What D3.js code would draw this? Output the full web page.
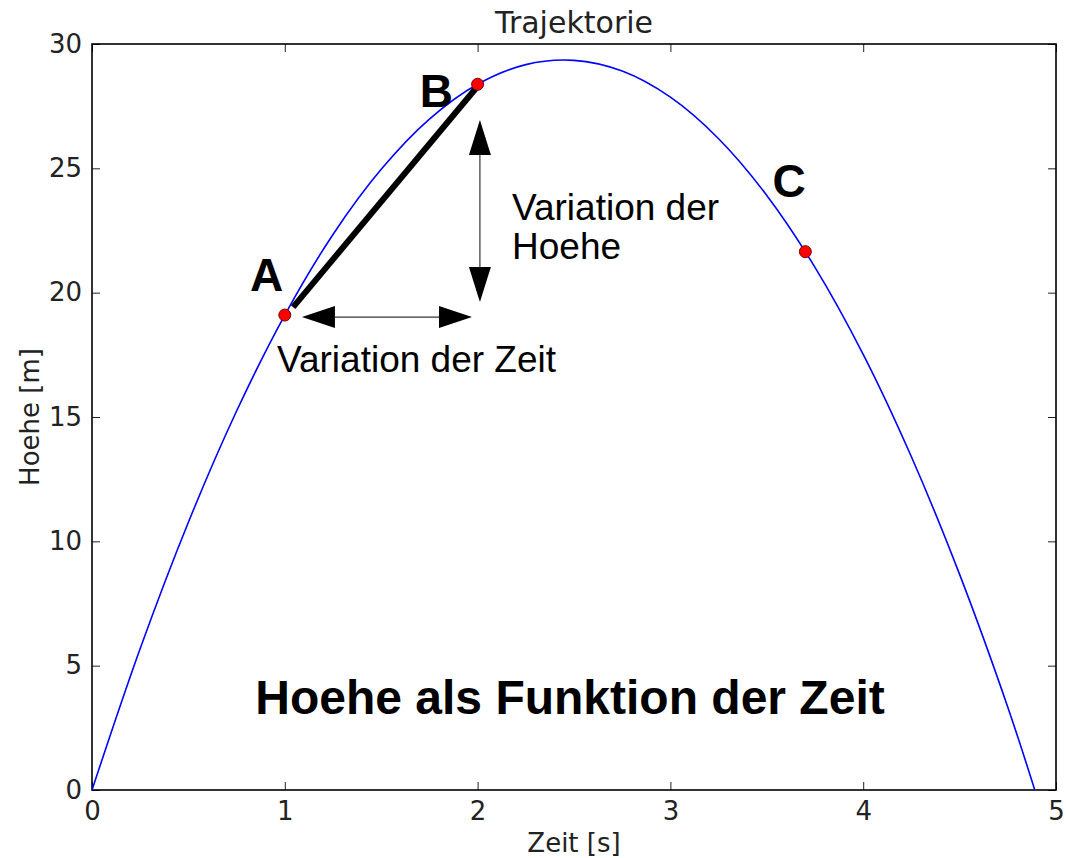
<!DOCTYPE html>
<html>
<head>
<meta charset="utf-8">
<script src="https://cdn.jsdelivr.net/npm/d3@7"></script>
<style>
	body { margin: 0; background: #fff; }
	.axis text { font-family: "DejaVu Sans", sans-serif; font-size: 26px; fill: #222; }
	.axis path { display: none; }
	.axis line { stroke: #222; stroke-width: 1; }
	.anno { font-family: "Liberation Sans", Arial, sans-serif; fill: #000; }
</style>
</head>
<body>
<div id="chart"></div>
<script>
// curve: time [s] and height [m]
var zeit = [0, 0.25, 0.5, 0.75, 1.0, 1.25, 1.5, 1.75, 2.0, 2.25, 2.5, 2.75,
	3.0, 3.25, 3.5, 3.75, 4.0, 4.25, 4.5, 4.75, 4.89];
var hoehe = [0, 5.69, 10.77, 15.24, 19.10, 22.34, 24.96, 26.98, 28.38, 29.17, 29.34, 28.91,
	27.86, 26.19, 23.91, 21.02, 17.52, 13.40, 8.67, 3.33, 0];

// marked points
var pointNames = ["A", "B", "C"];
var pointZeit = [1.0, 2.0, 3.7];
var pointHoehe = [19.1, 28.38, 21.65];

var xTicks = [0, 1, 2, 3, 4, 5];
var yTicks = [0, 5, 10, 15, 20, 25, 30];

var W = 1066, H = 858,
	pLeft = 92, pTop = 44, pRight = 1056, pBottom = 790;

var svg = d3.select("#chart").append("svg")
	.attr("width", W)
	.attr("height", H);

var x = d3.scaleLinear().domain([0, 5]).range([pLeft, pRight]);
var y = d3.scaleLinear().domain([0, 30]).range([pBottom, pTop]);

// axes, ticks pointing inwards like matplotlib
svg.append("g").attr("class", "axis")
	.attr("transform", "translate(0," + pBottom + ")")
	.call(d3.axisBottom(x).tickValues(xTicks).tickSize(-8).tickPadding(12).tickFormat(d3.format("d")));
svg.append("g").attr("class", "axis")
	.attr("transform", "translate(" + pLeft + ",0)")
	.call(d3.axisLeft(y).tickValues(yTicks).tickSize(-8).tickPadding(10).tickFormat(d3.format("d")));
svg.append("g").attr("class", "axis")
	.attr("transform", "translate(0," + pTop + ")")
	.call(d3.axisTop(x).tickValues(xTicks).tickSize(-8).tickFormat(""));
svg.append("g").attr("class", "axis")
	.attr("transform", "translate(" + pRight + ",0)")
	.call(d3.axisRight(y).tickValues(yTicks).tickSize(-8).tickFormat(""));

svg.append("rect")
	.attr("x", pLeft).attr("y", pTop)
	.attr("width", pRight - pLeft).attr("height", pBottom - pTop)
	.style("fill", "none").style("stroke", "#000").style("stroke-width", 1.6);

// titles
svg.append("text")
	.attr("x", (pLeft + pRight) / 2).attr("y", 33)
	.attr("text-anchor", "middle")
	.style("font-family", "DejaVu Sans").style("font-size", "30px").style("fill", "#222")
	.text("Trajektorie");
svg.append("text")
	.attr("x", (pLeft + pRight) / 2).attr("y", 852)
	.attr("text-anchor", "middle")
	.style("font-family", "DejaVu Sans").style("font-size", "26px").style("fill", "#222")
	.text("Zeit [s]");
svg.append("text")
	.attr("transform", "translate(39," + (pTop + pBottom) / 2 + ") rotate(-90)")
	.attr("text-anchor", "middle")
	.style("font-family", "DejaVu Sans").style("font-size", "26px").style("fill", "#222")
	.text("Hoehe [m]");

// the trajectory
var line = d3.line()
	.x(function(d) { return x(d[0]); })
	.y(function(d) { return y(d[1]); })
	.curve(d3.curveCatmullRom);

svg.append("path")
	.datum(d3.zip(zeit, hoehe))
	.attr("d", line)
	.style("fill", "none")
	.style("stroke", "#0000ff")
	.style("stroke-width", 1.6);

// secant A -> B
svg.append("line")
	.attr("x1", x(1.043)).attr("y1", y(19.42))
	.attr("x2", x(1.997)).attr("y2", y(28.27))
	.style("stroke", "#000").style("stroke-width", 6);

// double headed arrows
function arrow(x1, y1, x2, y2, len, half) {
	var dx = x2 - x1, dy = y2 - y1, d = Math.sqrt(dx * dx + dy * dy),
		ux = dx / d, uy = dy / d;
	svg.append("line")
		.attr("x1", x1 + ux * len).attr("y1", y1 + uy * len)
		.attr("x2", x2 - ux * len).attr("y2", y2 - uy * len)
		.style("stroke", "#333").style("stroke-width", 1.2);
	[[x1, y1, 1], [x2, y2, -1]].forEach(function(p) {
		var bx = p[0] + p[2] * ux * len, by = p[1] + p[2] * uy * len;
		svg.append("path")
			.attr("d", "M" + p[0] + "," + p[1] +
				"L" + (bx - uy * half) + "," + (by + ux * half) +
				"L" + (bx + uy * half) + "," + (by - ux * half) + "Z")
			.style("fill", "#000");
	});
}
arrow(x(1.089), y(19.02), x(1.971), y(19.02), 33, 11);
arrow(x(2.012), y(26.94), x(2.012), y(19.62), 35, 11);

// points
svg.selectAll(".pt")
	.data(d3.zip(pointZeit, pointHoehe))
	.enter().append("circle")
	.attr("class", "pt")
	.attr("cx", function(d) { return x(d[0]); })
	.attr("cy", function(d) { return y(d[1]); })
	.attr("r", 6)
	.style("fill", "#ff0000")
	.style("stroke", "#7a0000")
	.style("stroke-width", 1);

// letters next to the points (offset in data units)
var labelDx = [-0.18, -0.30, -0.17];
var labelDy = [0.96, -0.92, 2.19];
svg.selectAll(".lbl")
	.data(pointNames)
	.enter().append("text")
	.attr("class", "anno")
	.attr("x", function(d, i) { return x(pointZeit[i] + labelDx[i]); })
	.attr("y", function(d, i) { return y(pointHoehe[i] + labelDy[i]); })
	.style("font-size", "46px").style("font-weight", "bold")
	.text(function(d) { return d; });

svg.append("text").attr("class", "anno")
	.attr("x", 277).attr("y", 372)
	.style("font-size", "37px")
	.text("Variation der Zeit");
svg.append("text").attr("class", "anno")
	.attr("x", 512).attr("y", 220)
	.style("font-size", "37px")
	.text("Variation der");
svg.append("text").attr("class", "anno")
	.attr("x", 512).attr("y", 259)
	.style("font-size", "37px")
	.text("Hoehe");

svg.append("text").attr("class", "anno")
	.attr("x", 570).attr("y", 714)
	.attr("text-anchor", "middle")
	.style("font-size", "48px").style("font-weight", "bold")
	.text("Hoehe als Funktion der Zeit");
</script>
</body>
</html>
